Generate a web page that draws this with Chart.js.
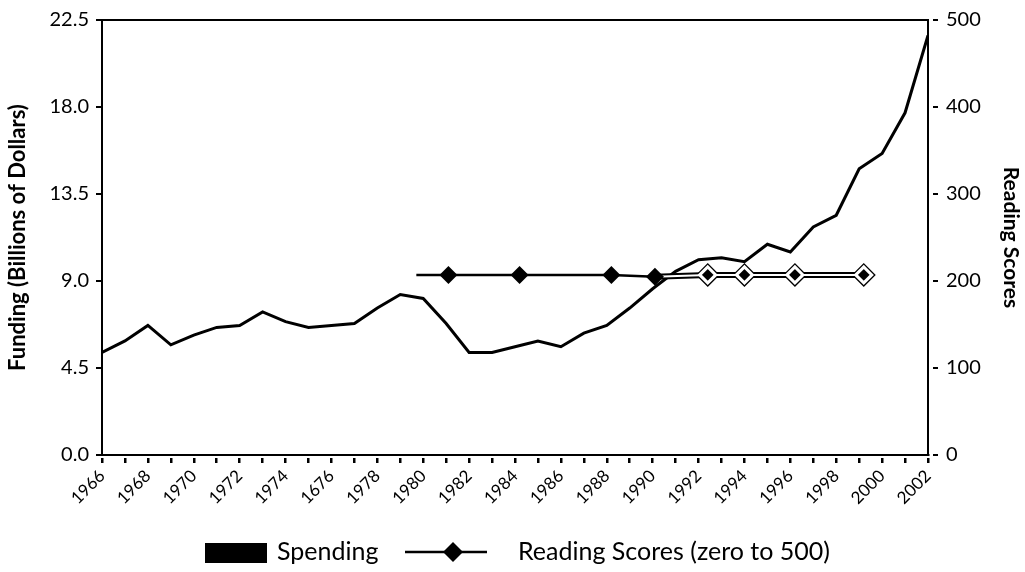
<!DOCTYPE html>
<html>
<head>
<meta charset="utf-8">
<script src="https://cdn.jsdelivr.net/npm/chart.js@4.4.1/dist/chart.umd.min.js"></script>
<style>
  body { margin: 0; background: #fff; }
  #wrap { position: relative; width: 1025px; height: 572px; }
  #legend span { position: absolute; font: 25px Lato, sans-serif; line-height: 1.2; color: #000; white-space: nowrap; }
</style>
</head>
<body>
<div id="wrap">
  <canvas id="grafico" width="1025" height="572"></canvas>
  <div id="legend">
    <div style="position:absolute;left:205px;top:543px;width:62px;height:20px;background:#000"></div>
    <span style="left:277px;top:535px">Spending</span>
    <svg style="position:absolute;left:405px;top:541px" width="82" height="22">
      <line x1="0" y1="11" x2="82" y2="11" stroke="#000" stroke-width="2.5"/>
      <polygon points="48,1 58,11 48,21 38,11" fill="#000"/>
    </svg>
    <span style="left:518px;top:535px">Reading Scores (zero to 500)</span>
  </div>
</div>
<script>
// años y gasto (miles de millones)
const years = [1966, 1967, 1968, 1969, 1970, 1971, 1972, 1973, 1974, 1975, 1976, 1977, 1978,
               1979, 1980, 1981, 1982, 1983, 1984, 1985, 1986, 1987, 1988, 1989, 1990, 1991,
               1992, 1993, 1994, 1995, 1996, 1997, 1998, 1999, 2000, 2001, 2002];
const spending = [5.3, 5.9, 6.7, 5.7, 6.2, 6.6, 6.7, 7.4, 6.9, 6.6, 6.7, 6.8, 7.6,
                  8.3, 8.1, 6.8, 5.3, 5.3, 5.6, 5.9, 5.6, 6.3, 6.7, 7.6, 8.6, 9.5,
                  10.1, 10.2, 10.0, 10.9, 10.5, 11.8, 12.4, 14.8, 15.6, 17.7, 21.7];

// puntajes de lectura (posiciones)
const readingYears = [1979.7, 1981.1, 1984.2, 1988.2, 1990.1, 1992.4, 1994.0, 1996.2, 1999.2];
const readingScores = [207, 207, 207, 207, 205, 207, 207, 207, 207];
const readingMarker = [0, 1, 1, 1, 1, 1, 1, 1, 1];
const splitIdx = 4; // desde 1990 la linea es doble

const xTickLabels = ['1966', '1968', '1970', '1972', '1974', '1676', '1978', '1980', '1982', '1984',
                     '1986', '1988', '1990', '1992', '1994', '1996', '1998', '2000', '2002'];
const leftTicks = [0, 4.5, 9, 13.5, 18, 22.5];
const rightTicks = [0, 100, 200, 300, 400, 500];

const toPoints = (xs, ys) => xs.map((x, i) => ({ x: x, y: ys[i] }));

const spendingPts = toPoints(years, spending);
const earlyPts = toPoints(readingYears.slice(0, splitIdx + 1), readingScores.slice(0, splitIdx + 1));
const latePts = toPoints(readingYears.slice(splitIdx), readingScores.slice(splitIdx));
const earlyRadius = readingMarker.slice(0, splitIdx + 1).map(m => m ? 9 : 0);
const lateMarks = readingMarker.slice(splitIdx).map((m, i) => i === 0 ? 0 : m);

const font = 'Lato, sans-serif';

// marcas de eje con un pequeño hueco, como "22.5 -"
const yGrid = { drawOnChartArea: false, color: '#000', lineWidth: 2, tickLength: 10, tickBorderDash: [0, 4, 6, 40] };

new Chart(document.getElementById('grafico').getContext('2d'), {
    type: 'line',
    data: {
        datasets: [
            {
                // tramo solido
                data: earlyPts,
                yAxisID: 'yRight',
                borderColor: '#000',
                borderWidth: 2.5,
                pointStyle: 'rectRot',
                pointRadius: earlyRadius,
                pointBackgroundColor: '#000',
                pointBorderWidth: 0,
            },
            {
                // tramo doble: linea blanca interior
                data: latePts,
                yAxisID: 'yRight',
                borderColor: '#fff',
                borderWidth: 2,
                pointStyle: 'rectRot',
                pointRadius: lateMarks.map(m => m ? 8 : 0),
                pointBackgroundColor: '#000',
                pointBorderColor: '#fff',
                pointBorderWidth: 3,
            },
            {
                // tramo doble: borde negro
                data: latePts,
                yAxisID: 'yRight',
                borderColor: '#000',
                borderWidth: 6,
                pointStyle: 'rectRot',
                pointRadius: lateMarks.map(m => m ? 12 : 0),
                pointBackgroundColor: '#000',
                pointBorderWidth: 0,
            },
            {
                label: 'Spending',
                data: spendingPts,
                yAxisID: 'yLeft',
                borderColor: '#000',
                borderWidth: 3,
                pointRadius: 0,
                tension: 0,
            },
        ],
    },
    options: {
        responsive: false,
        animation: false,
        events: [],
        layout: { padding: { top: 20, left: 0, right: 0, bottom: 0 } },
        plugins: { legend: { display: false }, tooltip: { enabled: false } },
        scales: {
            x: {
                type: 'linear',
                position: 'bottom',
                min: 1966,
                max: 2002,
                afterFit: (s) => { s.height = 117; },
                ticks: {
                    stepSize: 1,
                    autoSkip: false,
                    minRotation: 45,
                    maxRotation: 45,
                    padding: 3,
                    color: '#000',
                    font: { family: font, size: 17 },
                    callback: (v) => {
                        const k = Math.round(v) - 1966;
                        return k % 2 === 0 ? xTickLabels[k / 2] : '';
                    },
                },
                grid: { drawOnChartArea: false, color: '#000', lineWidth: 2.5, tickLength: 8, tickBorderDash: [0, 2, 6, 40] },
                border: { color: '#000', width: 2 },
            },
            xTop: {
                type: 'linear',
                position: 'top',
                min: 1966,
                max: 2002,
                afterFit: (s) => { s.height = 0; },
                ticks: { display: false },
                grid: { display: false },
                border: { color: '#000', width: 2 },
            },
            yLeft: {
                position: 'left',
                min: 0,
                max: 22.5,
                afterFit: (s) => { s.width = 102; },
                afterBuildTicks: (s) => { s.ticks = leftTicks.map(v => ({ value: v })); },
                ticks: {
                    color: '#000',
                    padding: 3,
                    font: { family: font, size: 20 },
                    callback: (v) => v.toFixed(1),
                },
                grid: yGrid,
                border: { color: '#000', width: 2 },
                title: {
                    display: true,
                    text: 'Funding (Billions of Dollars)',
                    color: '#000',
                    font: { family: font, size: 22, weight: 'bold' },
                    padding: { top: 5, bottom: 0 },
                },
            },
            yRight: {
                position: 'right',
                min: 0,
                max: 500,
                afterFit: (s) => { s.width = 97; },
                afterBuildTicks: (s) => { s.ticks = rightTicks.map(v => ({ value: v })); },
                ticks: {
                    color: '#000',
                    padding: 8,
                    font: { family: font, size: 20 },
                },
                grid: yGrid,
                border: { color: '#000', width: 2 },
                title: {
                    display: true,
                    text: 'Reading Scores',
                    color: '#000',
                    font: { family: font, size: 21, weight: 'bold' },
                    padding: { top: 2, bottom: 0 },
                },
            },
        },
    },
});
</script>
</body>
</html>
